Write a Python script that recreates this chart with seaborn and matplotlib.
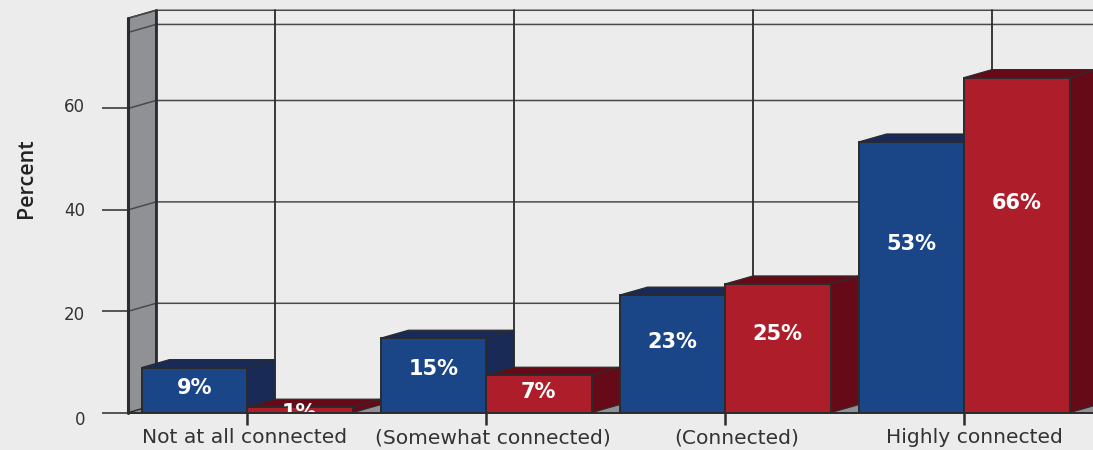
import matplotlib
matplotlib.use('Agg')
import matplotlib.pyplot as plt
from matplotlib.patches import Polygon
from matplotlib.transforms import ScaledTranslation
import pandas as pd
import seaborn as sns

categories = ['Not at all connected', '(Somewhat connected)', '(Connected)', 'Highly connected']
series_names = ['Blue', 'Red']
blue_values = [8.9, 14.7, 23.2, 53.4]
red_values = [1.1, 7.4, 25.4, 66.1]
blue_labels = ['9%', '15%', '23%', '53%']
red_labels = ['1%', '7%', '25%', '66%']
y_ticks = [0, 20, 40, 60]
top_grid = 75
wall_top = 77.8

BG = '#ECECEC'
WALL = '#8F9194'
LINE = '#2B2B2D'
GRID = '#4A4A4C'
FRONT = {'Blue': '#1A4587', 'Red': '#AE1E2A'}
DARK = {'Blue': '#182A55', 'Red': '#660A18'}

# depth of the fake 3d, in data units
DX = 28 / 239
DY = 8 / 5.07

sns.set_theme(style='white')

df = pd.DataFrame({
    'category': categories * 2,
    'series': [series_names[0]] * 4 + [series_names[1]] * 4,
    'value': blue_values + red_values,
})

fig = plt.figure(figsize=(10.93, 4.5), dpi=100, facecolor=BG)
ax = fig.add_axes([128 / 1093, (450 - 412.7) / 450, (1093 - 128) / 1093, 412.7 / 450], facecolor=BG)

sns.barplot(data=df, x='category', y='value', hue='series', order=categories, hue_order=series_names,
            palette=FRONT, saturation=1, width=105.5 * 2 / 239, gap=0, dodge=True, legend=False,
            edgecolor=LINE, linewidth=1.4, ax=ax, zorder=4)

ax.set_xlim(-119 / 239, 846 / 239)
ax.set_ylim(0, 412.7 / 5.07)
x0, x1 = ax.get_xlim()

# floor and side wall
ax.add_patch(Polygon([(x0, 0), (x0 + DX, DY), (x1 + DX, DY), (x1, 0)], closed=True, fc=WALL, ec='none', zorder=1))
ax.add_patch(Polygon([(x0, 0), (x0 + DX, DY), (x0 + DX, wall_top + DY), (x0, wall_top)], closed=True,
                     fc=WALL, ec=LINE, lw=1.1, zorder=1, clip_on=False))

# grid on the back and on the wall
for y in y_ticks[1:] + [top_grid, wall_top]:
    ax.plot([x0, x0 + DX, x1], [y, y + DY, y + DY], color=GRID, lw=1.1, zorder=2)
for i in range(len(categories)):
    ax.plot([i + DX, i + DX], [DY, wall_top + DY], color=LINE, lw=1.3, zorder=2)
ax.plot([x0 + DX, x0 + DX], [0, wall_top + DY], color=LINE, lw=2, zorder=2)
ax.plot([x0, x0], [0, wall_top], color=LINE, lw=2.2, zorder=2, clip_on=False)

# top and side faces for each bar, left to right so that later bars cover earlier ones
bars = sorted([p for c in ax.containers for p in c.patches], key=lambda p: p.get_x())
for n, bar in enumerate(bars):
    left, w, h = bar.get_x(), bar.get_width(), bar.get_height()
    name = series_names[n % 2]
    z = 4 + n
    bar.set_zorder(z + 0.2)
    ax.add_patch(Polygon([(left, h), (left + DX, h + DY), (left + w + DX, h + DY), (left + w, h)], closed=True,
                         fc=DARK[name], ec=LINE, lw=0.8, zorder=z))
    ax.add_patch(Polygon([(left + w, 0), (left + w + DX, DY), (left + w + DX, h + DY), (left + w, h)], closed=True,
                         fc=DARK[name], ec=LINE, lw=0.8, zorder=z, clip_on=False))
    label = (blue_labels + red_labels)[n // 2 + (4 if n % 2 else 0)]
    ax.text(left + w / 2, max(0.635 * h - 0.7, 0), label, color='white', fontsize=15, fontweight='bold',
            ha='center', va='center', zorder=20, clip_on=True)

# axes
sns.despine(ax=ax, left=True, top=True, right=True)
ax.spines['bottom'].set_color(LINE)
ax.spines['bottom'].set_linewidth(1.4)
ax.spines['bottom'].set_zorder(30)
ax.set_xlabel('')
ax.set_ylabel('')
ax.set_yticks(y_ticks)
ax.tick_params(axis='y', left=True, length=26 * 0.72, width=1.1, color=LINE, pad=12, labelsize=12, labelcolor='#333333')
ax.tick_params(axis='x', bottom=True, length=12 * 0.72, width=1.8, color=LINE, pad=2.5, labelsize=14.6, labelcolor='#333333')

for lab, off in zip(ax.get_yticklabels(), [-5, -2, 1, 3]):
    lab.set_transform(lab.get_transform() + ScaledTranslation(0, off / 100, fig.dpi_scale_trans))
for lab, off in zip(ax.get_xticklabels(), [-2, 7, 12, 10]):
    lab.set_transform(lab.get_transform() + ScaledTranslation(off / 100, 0, fig.dpi_scale_trans))

fig.text(26 / 1093, 1 - 178 / 450, 'Percent', rotation=90, ha='center', va='center',
         family='Open Sans', fontweight='semibold', fontsize=15.5, color='#222222')

fig.savefig('out.png', dpi=100, facecolor=BG)
